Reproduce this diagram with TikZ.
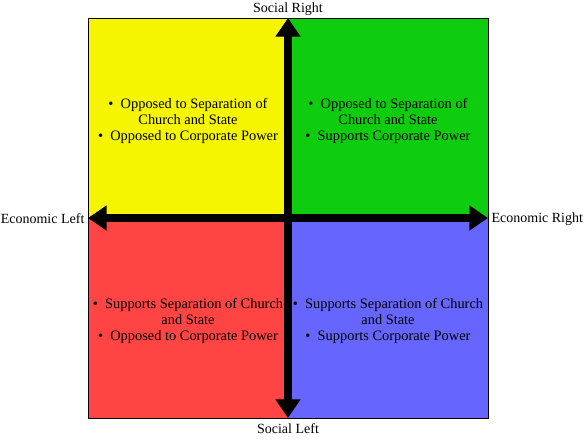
\documentclass[tikz,border=0pt]{standalone}
\usepackage{xcolor}
\usepackage{fontspec}
\setmainfont{Liberation Serif}
\usepackage{tikz}
\definecolor{quadyellow}{RGB}{245,245,0}
\definecolor{quadgreen}{RGB}{14,204,14}
\definecolor{quadred}{RGB}{255,68,68}
\definecolor{quadblue}{RGB}{102,102,255}
\usetikzlibrary{arrows.meta,positioning}

\begin{document}
\begin{tikzpicture}[
    x=0.75pt, y=-0.75pt,
    quad/.style={rectangle, minimum width=150pt, minimum height=150pt, inner sep=0pt, outer sep=0pt},
    blurb/.style={align=center, font=\fontsize{10.8}{12}\selectfont, inner sep=0pt},
    axislabel/.style={font=\fontsize{10.5}{12}\selectfont, inner sep=1pt},
    axis/.style={{Triangle[width=18pt,length=14pt]}-{Triangle[width=18pt,length=14pt]}, line width=6pt}
]
\useasboundingbox (0,0) rectangle (585,439);

\node[quad, fill=quadyellow] (tl) at (188,118) {};
\node[quad, fill=quadgreen] (tr) at (388,118) {};
\node[quad, fill=quadred] (bl) at (188,318) {};
\node[quad, fill=quadblue] (br) at (388,318) {};
\draw[line width=0.75pt] (tl.north west) rectangle (br.south east);

\node[blurb] (tltext) at (188,121) {\textbullet\ \ Opposed to Separation of\\Church and State\\\textbullet\ \ Opposed to Corporate Power};
\node[blurb] (trtext) at (388,121) {\textbullet\ \ Opposed to Separation of\\Church and State\\\textbullet\ \ Supports Corporate Power};
\node[blurb] (bltext) at (188,321) {\textbullet\ \ Supports Separation of Church\\and State\\\textbullet\ \ Opposed to Corporate Power};
\node[blurb] (brtext) at (388,321) {\textbullet\ \ Supports Separation of Church\\and State\\\textbullet\ \ Supports Corporate Power};

\draw[axis] (bl.south east) -- (tl.north east);
\draw[axis] (tl.south west) -- (tr.south east);

\node[axislabel] (socright) at (288,9) {Social Right};
\node[axislabel] (socleft) at (288,429) {Social Left};
\node[axislabel, anchor=east] (econleft) at (86,219) {Economic Left};
\node[axislabel, anchor=west] (econright) at (490,219) {Economic Right};

\end{tikzpicture}
\end{document}
